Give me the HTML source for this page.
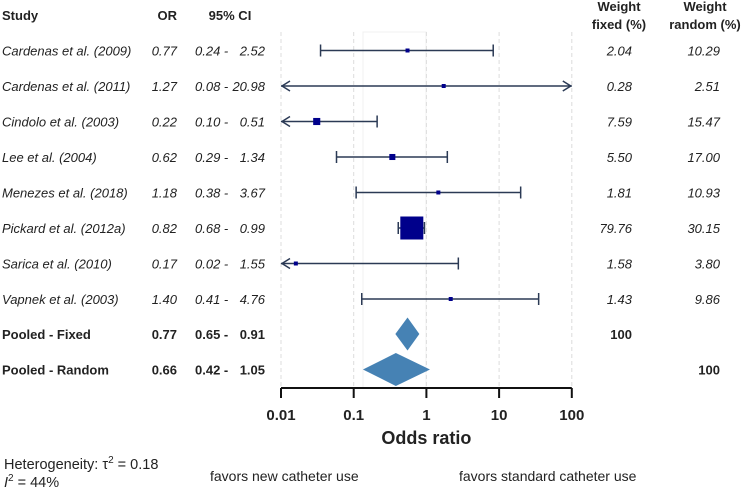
<!DOCTYPE html>
<html><head><meta charset="utf-8">
<style>
html,body{margin:0;padding:0;background:#fff;width:744px;height:489px;overflow:hidden}
svg text{font-family:"Liberation Sans",Arial,sans-serif;fill:#222}
</style></head><body>
<svg id="plot" width="744" height="489" viewBox="0 0 744 489" xmlns="http://www.w3.org/2000/svg">
</svg>
<script>
const studies=["Cardenas et al. (2009)","Cardenas et al. (2011)","Cindolo et al. (2003)","Lee et al. (2004)","Menezes et al. (2018)","Pickard et al. (2012a)","Sarica et al. (2010)","Vapnek et al. (2003)"];
const orText=["0.77","1.27","0.22","0.62","1.18","0.82","0.17","1.40"];
const ciLoText=["0.24","0.08","0.10","0.29","0.38","0.68","0.02","0.41"];
const ciHiText=["2.52","20.98","0.51","1.34","3.67","0.99","1.55","4.76"];
const wFixed=[2.04,0.28,7.59,5.50,1.81,79.76,1.58,1.43];
const wRandom=[10.29,2.51,15.47,17.00,10.93,30.15,3.80,9.86];
const est=[0.55,1.73,0.031,0.34,1.46,0.63,0.016,2.16];
const lower=[0.035,0.005,0.005,0.058,0.108,0.41,0.005,0.129];
const upper=[8.3,200,0.21,1.94,19.8,0.94,2.75,35];
const pooledLabels=["Pooled - Fixed","Pooled - Random"];
const pooledOR=["0.77","0.66"];
const pooledCILo=["0.65","0.42"];
const pooledCIHi=["0.91","1.05"];
const pooledEst=[0.55,0.38];
const pooledLo=[0.374,0.134];
const pooledHi=[0.80,1.12];
const ticks=[0.01,0.1,1,10,100];
const tickLabels=["0.01","0.1","1","10","100"];

const svg=document.getElementById('plot');
const NS='http://www.w3.org/2000/svg';
const X0=281,DEC=72.7,XMIN=0.01,XMAX=100;
function xs(v){return X0+(Math.log10(v)+2)*DEC;}
function clampX(v){return xs(Math.min(Math.max(v,XMIN),XMAX));}
function rowY(i){return 50.5+i*35.5;}
function mk(tag,attrs,text){const e=document.createElementNS(NS,tag);for(const k in attrs)e.setAttribute(k,attrs[k]);if(text!==undefined)e.textContent=text;svg.appendChild(e);return e;}

let band=mk('rect',{x:363,y:32,width:63,height:356,fill:'none',stroke:'#f0f0f0','stroke-width':1});


ticks.forEach((t,i)=>{
 const g=mk('line',{x1:xs(t),x2:xs(t),y1:32,y2:388,stroke:'#dcdcdc','stroke-dasharray':'4,3','stroke-width':1});
 
 
});
const hdr=[["Study",2,20,'start'],["OR",177,20,'end'],["95% CI",230,20,'middle'],["Weight",619,11,'middle'],["fixed (%)",619,29,'middle'],["Weight",705,11,'middle'],["random (%)",705,29,'middle']];
hdr.forEach(h=>{const t=mk('text',{x:h[1],y:h[2],'text-anchor':h[3],'font-size':13,'font-weight':'bold'},h[0]);
 
 });

studies.forEach((s,i)=>{
 const y=rowY(i);
 const ty=y+5;
 let t=mk('text',{x:2,y:ty,'font-size':13,'font-style':'italic'},s);
 
 
 t=mk('text',{x:177,y:ty,'text-anchor':'end','font-size':13,'font-style':'italic'},orText[i]);
 
 
 t=mk('text',{x:195,y:ty,'font-size':13,'font-style':'italic'},ciLoText[i]+" -");
 
 
 t=mk('text',{x:265,y:ty,'text-anchor':'end','font-size':13,'font-style':'italic'},ciHiText[i]);
 
 
 t=mk('text',{x:632,y:ty,'text-anchor':'end','font-size':13,'font-style':'italic'},wFixed[i].toFixed(2));
 
 
 t=mk('text',{x:720,y:ty,'text-anchor':'end','font-size':13,'font-style':'italic'},wRandom[i].toFixed(2));
 
 
 const lo=clampX(lower[i]),hi=clampX(upper[i]);
 const loA=lower[i]<XMIN,hiA=upper[i]>XMAX;
 const ln=mk('line',{x1:lo,x2:hi,y1:y,y2:y,stroke:'#2b3a55','stroke-width':1.6});
 
 
 if(loA){const a=mk('path',{d:`M${lo+9},${y-5} L${lo+1},${y} L${lo+9},${y+5}`,fill:'none',stroke:'#2b3a55','stroke-width':1.5});
  
  }
 else{const c=mk('line',{x1:lo,x2:lo,y1:y-6,y2:y+6,stroke:'#2b3a55','stroke-width':1.5});
  
  }
 if(hiA){const a=mk('path',{d:`M${hi-9},${y-5} L${hi-1},${y} L${hi-9},${y+5}`,fill:'none',stroke:'#2b3a55','stroke-width':1.5});
  
  }
 else{const c=mk('line',{x1:hi,x2:hi,y1:y-6,y2:y+6,stroke:'#2b3a55','stroke-width':1.5});
  
  }
 const sz=Math.max(4,23*Math.sqrt(wFixed[i]/79.76));
 const sq=mk('rect',{x:xs(est[i])-sz/2,y:y-sz/2,width:sz,height:sz,fill:'#00008b'});
 
 
});

pooledLabels.forEach((p,j)=>{
 const y=rowY(8+j)-0.5,ty=y+5;
 let t=mk('text',{x:2,y:ty,'font-size':13,'font-weight':'bold'},p);
 
 
 t=mk('text',{x:177,y:ty,'text-anchor':'end','font-size':13,'font-weight':'bold'},pooledOR[j]);
 
 
 t=mk('text',{x:195,y:ty,'font-size':13,'font-weight':'bold'},pooledCILo[j]+" -");
 
 
 t=mk('text',{x:265,y:ty,'text-anchor':'end','font-size':13,'font-weight':'bold'},pooledCIHi[j]);
 
 
 t=mk('text',{x:j===0?632:720,y:ty,'text-anchor':'end','font-size':13,'font-weight':'bold'},"100");
 
 
 const h=16.5,c=xs(pooledEst[j]),l=xs(pooledLo[j]),r=xs(pooledHi[j]);
 const d=mk('polygon',{points:`${l},${y} ${c},${y-h} ${r},${y} ${c},${y+h}`,fill:'#4682b4'});
 
 
});

const ax=mk('line',{x1:xs(0.01),x2:xs(100),y1:388,y2:388,stroke:'#111','stroke-width':2});


ticks.forEach((t,i)=>{
 const tk=mk('line',{x1:xs(t),x2:xs(t),y1:388,y2:398,stroke:'#111','stroke-width':2});
 
 
 const lb=mk('text',{x:xs(t),y:420,'text-anchor':'middle','font-size':15,'font-weight':'bold'},tickLabels[i]);
 
 
});
let tt=mk('text',{x:xs(1),y:444,'text-anchor':'middle','font-size':18,'font-weight':'bold'},"Odds ratio");


tt=mk('text',{x:210,y:481,'font-size':14},"favors new catheter use");


tt=mk('text',{x:459,y:481,'font-size':14},"favors standard catheter use");


const het=mk('text',{x:4,y:469,'font-size':14.5});


het.innerHTML='Heterogeneity:  τ<tspan dy="-6" font-size="10">2</tspan><tspan dy="6"> = 0.18</tspan>';
const i2=mk('text',{x:4,y:487,'font-size':14.5});


i2.innerHTML='<tspan font-style="italic">I</tspan><tspan dy="-6" font-size="10">2</tspan><tspan dy="6"> = 44%</tspan>';
</script>
</body></html>
